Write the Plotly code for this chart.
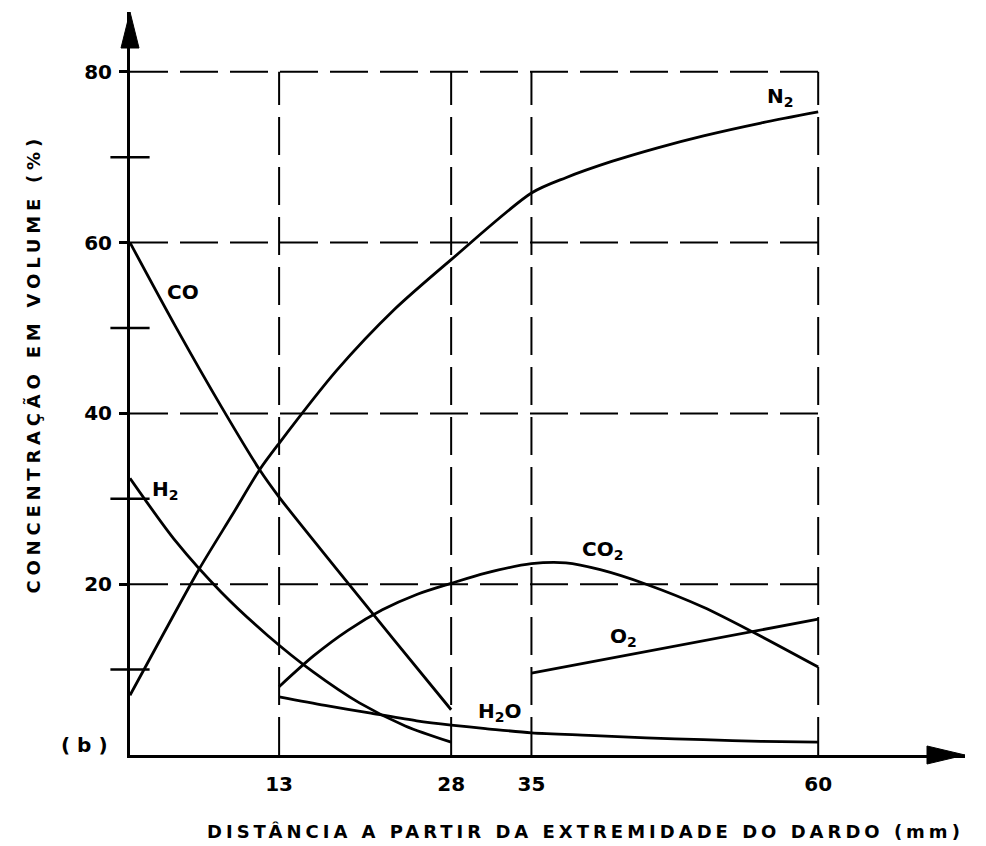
import plotly.graph_objects as go

# ---- data ----
x_co = [0, 4, 8, 11.3, 13, 18, 23, 28]
y_co = [60, 50.1, 40.7, 33.4, 30.2, 21.8, 13.5, 5.3]

x_h2 = [0, 4, 8, 12, 16, 20, 24, 28]
y_h2 = [32.4, 25.0, 19.0, 14.0, 9.7, 6.1, 3.4, 1.5]

x_n2 = [0, 3, 6, 9, 11.3, 13, 18, 23, 28, 35, 38, 42, 46, 50, 55, 60]
y_n2 = [7.0, 14.4, 21.7, 28.3, 33.4, 36.5, 45.0, 52.1, 58.0, 65.8, 67.6, 69.5, 71.1, 72.5, 74.0, 75.3]

x_co2 = [13, 16, 19, 22, 25, 28, 31, 35, 38, 41, 45, 50, 54.3, 60]
y_co2 = [8.0, 11.6, 14.6, 17.0, 18.8, 20.1, 21.3, 22.4, 22.5, 21.7, 20.0, 17.3, 14.4, 10.3]

x_o2 = [35, 60]
y_o2 = [9.6, 15.9]

x_h2o = [13, 17, 21, 25, 28, 31, 35, 40, 45, 50, 55, 60]
y_h2o = [6.8, 5.8, 4.9, 4.0, 3.5, 3.1, 2.6, 2.3, 2.0, 1.8, 1.6, 1.5]

x_ticks = [13, 28, 35, 60]
x_ticktext = ["13", "28", "35", "60"]
y_ticks = [20, 40, 60, 80]
y_ticktext = ["20", "40", "60", "80"]
y_minor = [10, 30, 50, 70]

labels = [
    ("CO", 4.6, 54.2),
    ("H<sub>2</sub>", 3.1, 31.0),
    ("N<sub>2</sub>", 56.7, 77.0),
    ("CO<sub>2</sub>", 41.2, 24.0),
    ("O<sub>2</sub>", 43.0, 13.8),
    ("H<sub>2</sub>O", 32.3, 5.0),
]

X_MAX = 72.8
Y_MAX = 87
FONT = "DejaVu Sans, Verdana, sans-serif"

fig = go.Figure()

line_style = dict(color="black", width=2.8, shape="spline", smoothing=0.8)
for xs, ys in [(x_co, y_co), (x_h2, y_h2), (x_n2, y_n2), (x_co2, y_co2), (x_o2, y_o2), (x_h2o, y_h2o)]:
    fig.add_trace(go.Scatter(x=xs, y=ys, mode="lines", line=line_style,
                             showlegend=False, hoverinfo="skip"))

# minor ticks crossing the y axis
fig.add_trace(go.Scatter(x=[0] * len(y_minor), y=y_minor, mode="markers",
                         marker=dict(symbol="line-ew", size=28,
                                     line=dict(color="black", width=2.5)),
                         cliponaxis=False, showlegend=False, hoverinfo="skip"))

shapes = []
grid_line = dict(color="black", width=2, dash="38px,12px")
for yv in y_ticks:
    shapes.append(dict(type="line", xref="x", yref="y", x0=0, x1=x_ticks[-1],
                       y0=yv, y1=yv, line=grid_line, layer="below"))
for xv in x_ticks:
    shapes.append(dict(type="line", xref="x", yref="y", x0=xv, x1=xv,
                       y0=0, y1=y_ticks[-1], line=grid_line, layer="below"))

# arrow heads on the axes
shapes.append(dict(type="path", xref="paper", yref="paper",
                   xsizemode="pixel", ysizemode="pixel", xanchor=1, yanchor=0,
                   path="M0,0 L-38,9 L-38,-9 Z",
                   fillcolor="black", line=dict(color="black", width=1)))
shapes.append(dict(type="path", xref="paper", yref="paper",
                   xsizemode="pixel", ysizemode="pixel", xanchor=0, yanchor=1,
                   path="M0,0 L-9,-36 L9,-36 Z",
                   fillcolor="black", line=dict(color="black", width=1)))

annotations = []
for txt, ax_, ay_ in labels:
    annotations.append(dict(x=ax_, y=ay_, xref="x", yref="y", text=txt,
                            showarrow=False,
                            font=dict(family=FONT, size=20, color="black", weight="bold")))

annotations.append(dict(
    x=0.546, y=-0.1036, xref="paper", yref="paper", xanchor="center", yanchor="middle",
    text='<span style="letter-spacing:4px">DISTÂNCIA A PARTIR DA EXTREMIDADE DO DARDO (mm)</span>',
    showarrow=False, font=dict(family=FONT, size=18, color="black", weight="bold")))
annotations.append(dict(
    x=-0.116, y=0.527, xref="paper", yref="paper", xanchor="center", yanchor="middle",
    text='<span style="letter-spacing:4.8px">CONCENTRAÇÃO EM VOLUME (%)</span>',
    textangle=-90,
    showarrow=False, font=dict(family=FONT, size=18, color="black", weight="bold")))
annotations.append(dict(
    x=-0.054, y=0.014, xref="paper", yref="paper", xanchor="center", yanchor="middle",
    text='( b )',
    showarrow=False, font=dict(family=FONT, size=20, color="black", weight="bold")))

fig.update_layout(
    width=986, height=846,
    margin=dict(l=130, r=21, t=12, b=91),
    paper_bgcolor="white", plot_bgcolor="white",
    shapes=shapes, annotations=annotations,
    xaxis=dict(range=[0, X_MAX], showgrid=False, zeroline=False,
               showline=True, linecolor="black", linewidth=3,
               tickvals=x_ticks, ticktext=x_ticktext, ticks="",
               ticklabelstandoff=9,
               tickfont=dict(family=FONT, size=20, color="black", weight="bold")),
    yaxis=dict(range=[0, Y_MAX], showgrid=False, zeroline=False,
               showline=True, linecolor="black", linewidth=3,
               tickvals=y_ticks, ticktext=y_ticktext, ticks="outside",
               ticklen=8, tickwidth=2.5, tickcolor="black",
               ticklabelstandoff=3,
               tickfont=dict(family=FONT, size=20, color="black", weight="bold")),
)

fig.write_html("out.html",
               config={"displayModeBar": False},
               post_script="document.body.style.margin='0';document.body.style.overflow='hidden';")
